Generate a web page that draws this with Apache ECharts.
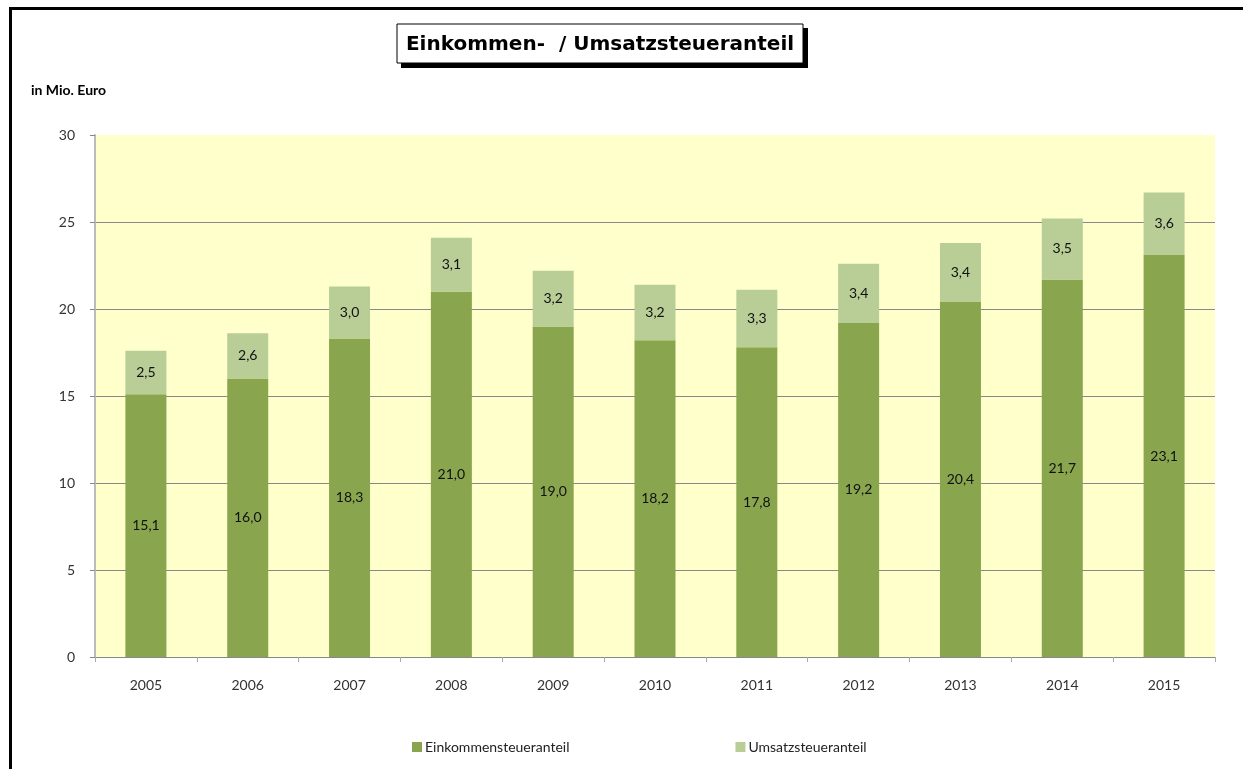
<!DOCTYPE html>
<html>
<head>
<meta charset="utf-8">
<script src="https://cdn.jsdelivr.net/npm/echarts@6/dist/echarts.min.js"></script>
<style>
  html, body { margin: 0; padding: 0; background: #fff; }
  #chart { width: 1243px; height: 769px; }
</style>
</head>
<body>
<div id="chart"></div>
<script>
const years = ['2005', '2006', '2007', '2008', '2009', '2010', '2011', '2012', '2013', '2014', '2015']
const einkommen = [15.1, 16.0, 18.3, 21.0, 19.0, 18.2, 17.8, 19.2, 20.4, 21.7, 23.1]
const umsatz = [2.5, 2.6, 3.0, 3.1, 3.2, 3.2, 3.3, 3.4, 3.4, 3.5, 3.6]

const chart = echarts.init(document.getElementById('chart'))

const fmt = (p) => p.value.toFixed(1).replace('.', ',')
const labelFont = 'Lato, "Open Sans", sans-serif'

const option = {
  backgroundColor: '#ffffff',
  animation: false,
  grid: {
    left: 95, right: 28, top: 135, bottom: 112,
    show: true, backgroundColor: '#FFFFCC', borderWidth: 0
  },
  graphic: [
    // outer frame (top + left)
    { type: 'rect', shape: { x: 9, y: 7, width: 1240, height: 3 }, style: { fill: '#000' } },
    { type: 'rect', shape: { x: 9, y: 7, width: 3, height: 770 }, style: { fill: '#000' } },
    // title box with shadow
    { type: 'rect', shape: { x: 401, y: 28, width: 407, height: 40 }, style: { fill: '#000' } },
    { type: 'rect', shape: { x: 397, y: 24, width: 406, height: 39 }, style: { fill: '#fff', stroke: '#000', lineWidth: 1 } },
    {
      type: 'text', x: 600, y: 45, style: {
        text: 'Einkommen-  / Umsatzsteueranteil',
        align: 'center', verticalAlign: 'middle',
        font: 'bold 20px "DejaVu Sans", sans-serif', fill: '#000'
      }
    },
    {
      type: 'text', x: 31, y: 90, style: {
        text: 'in Mio. Euro', verticalAlign: 'middle',
        font: 'bold 14px Lato, "Open Sans", sans-serif', fill: '#000'
      }
    }
  ],
  legend: {
    left: 407, top: 735, itemGap: 166, itemWidth: 10, itemHeight: 10,
    icon: 'rect',
    textStyle: { fontFamily: labelFont, fontSize: 14, color: '#222', padding: [0, 0, 0, -2] },
    data: ['Einkommensteueranteil', 'Umsatzsteueranteil']
  },
  xAxis: {
    type: 'category',
    data: years,
    axisLine: { lineStyle: { color: '#888', width: 1 } },
    axisTick: { show: true, length: 5, lineStyle: { color: '#aaa' } },
    axisLabel: { fontFamily: labelFont, fontSize: 14, color: '#333', margin: 21 }
  },
  yAxis: {
    type: 'value',
    min: 0, max: 30, interval: 5,
    axisLine: { show: true, lineStyle: { color: '#bbb', width: 2 } },
    axisTick: { show: true, length: 5, lineStyle: { color: '#888' } },
    axisLabel: { fontFamily: labelFont, fontSize: 14, color: '#333', margin: 20 },
    splitLine: { lineStyle: { color: ['#888', '#888', '#888', '#888', '#888', '#888', 'transparent'], width: 1 } }
  },
  series: [
    {
      name: 'Einkommensteueranteil',
      type: 'bar',
      stack: 'total',
      barWidth: 41,
      data: einkommen,
      itemStyle: { color: '#89A54E' },
      label: { show: true, position: 'inside', formatter: fmt, fontFamily: labelFont, fontSize: 14, color: '#111' }
    },
    {
      name: 'Umsatzsteueranteil',
      type: 'bar',
      stack: 'total',
      barWidth: 41,
      data: umsatz,
      itemStyle: { color: '#B9CD96' },
      label: { show: true, position: 'inside', formatter: fmt, fontFamily: labelFont, fontSize: 14, color: '#111' }
    }
  ]
}

chart.setOption(option)
</script>
</body>
</html>
